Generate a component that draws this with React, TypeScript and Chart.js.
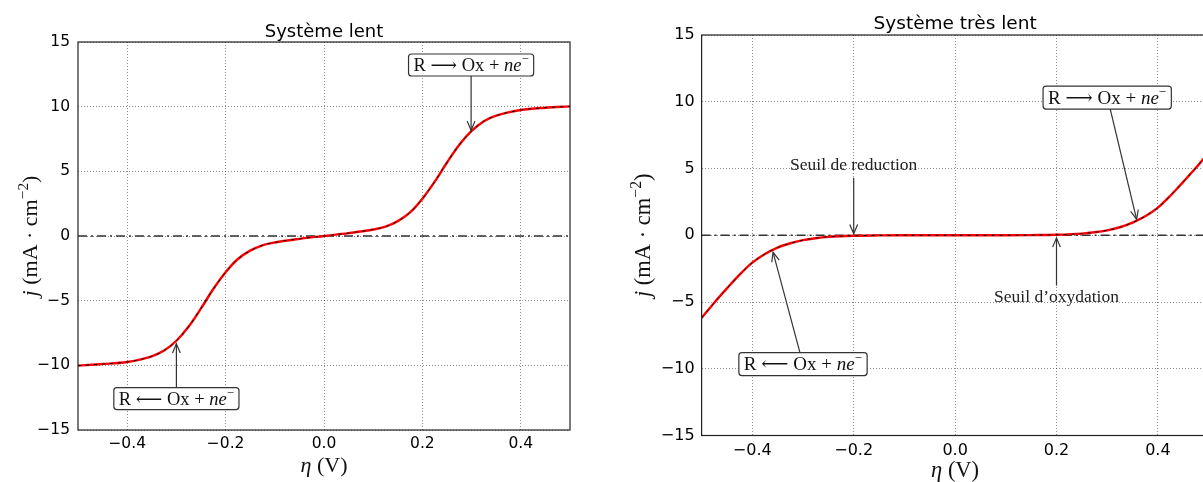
import React, { useEffect, useRef } from 'react';
import { Chart, registerables } from 'chart.js';

Chart.register(...registerables);

// ---------- data ----------
const X_TICKS = [-0.4, -0.2, 0, 0.2, 0.4];
const Y_TICKS = [-15, -10, -5, 0, 5, 10, 15];

const ETA_LENT = [-0.5, -0.45, -0.4, -0.35, -0.325, -0.3, -0.275, -0.25, -0.225, -0.2, -0.175, -0.15, -0.125, -0.1, -0.05, 0, 0.05, 0.1, 0.125, 0.15, 0.175, 0.2, 0.225, 0.25, 0.275, 0.3, 0.325, 0.35, 0.4, 0.45, 0.5];
const J_LENT = [-10.02, -9.9, -9.74, -9.3, -8.86, -8.1, -7.0, -5.6, -4.1, -2.8, -1.78, -1.13, -0.72, -0.5, -0.22, 0, 0.22, 0.5, 0.72, 1.15, 1.82, 2.88, 4.2, 5.68, 7.05, 8.12, 8.88, 9.3, 9.74, 9.92, 10.02];

const ETA_TRES_LENT = [-0.5, -0.475, -0.45, -0.425, -0.4, -0.375, -0.35, -0.325, -0.3, -0.275, -0.25, -0.2, -0.15, -0.1, 0, 0.1, 0.15, 0.2, 0.25, 0.275, 0.3, 0.325, 0.35, 0.375, 0.4, 0.425, 0.45, 0.475, 0.5];
const J_TRES_LENT = [-6.2, -5.05, -3.98, -2.95, -2.05, -1.4, -0.92, -0.6, -0.37, -0.22, -0.12, -0.035, -0.01, 0, 0, 0, 0.01, 0.035, 0.12, 0.22, 0.37, 0.6, 0.95, 1.42, 2.07, 2.98, 4.0, 5.05, 6.2];

const ZERO_ETA = [-0.5, 0.5];
const ZERO_J = [0, 0];

const TITLE_LENT = 'Système lent';
const TITLE_TRES_LENT = 'Système très lent';

// annotation boxes: centre (x, y), arrow start x (sx), arrow tip (tx, ty)
const BOXES_LENT = [
  { dir: 'ox', x: 0.299, y: 13.22, sx: 0.299, tx: 0.299, ty: 8.17 },
  { dir: 'red', x: -0.3, y: -12.57, sx: -0.3, tx: -0.3, ty: -8.33 },
];
const BOXES_TRES_LENT = [
  { dir: 'ox', x: 0.3, y: 10.31, sx: 0.306, tx: 0.358, ty: 1.19 },
  { dir: 'red', x: -0.3, y: -9.65, sx: -0.306, tx: -0.359, ty: -1.28 },
];
const LABELS_TRES_LENT = [
  { text: 'Seuil de reduction', x: -0.2, y: 5.33, sy: 4.3, ty: 0.12 },
  { text: 'Seuil d’oxydation', x: 0.2, y: -4.59, sy: -3.77, ty: -0.2 },
];

// ---------- drawing helpers ----------
const SERIF = '"Liberation Serif", "DejaVu Serif", serif';
const SANS = '"DejaVu Sans", sans-serif';

type Run = { t: string; s?: 'i' | 'sup' };

const OX_RUNS: Run[] = [{ t: 'R ' }, { t: '⟶' }, { t: ' Ox + ' }, { t: 'ne', s: 'i' }, { t: '−', s: 'sup' }];
const RED_RUNS: Run[] = [{ t: 'R ' }, { t: '⟵' }, { t: ' Ox + ' }, { t: 'ne', s: 'i' }, { t: '−', s: 'sup' }];
const YLABEL_RUNS: Run[] = [{ t: 'j', s: 'i' }, { t: ' (mA · cm' }, { t: '−2', s: 'sup' }, { t: ')' }];
const XLABEL_RUNS: Run[] = [{ t: 'η', s: 'i' }, { t: ' (V)' }];

function runFont(r: Run, size: number) {
  if (r.s === 'i') return `italic ${size}px ${SERIF}`;
  if (r.s === 'sup') return `${(size * 0.7).toFixed(1)}px ${SERIF}`;
  return `${size}px ${SERIF}`;
}
function measureRuns(ctx: CanvasRenderingContext2D, runs: Run[], size: number) {
  let w = 0;
  for (const r of runs) {
    ctx.font = runFont(r, size);
    w += ctx.measureText(r.t).width;
  }
  return w;
}
function drawRuns(ctx: CanvasRenderingContext2D, runs: Run[], cx: number, cy: number, size: number, color: string) {
  const total = measureRuns(ctx, runs, size);
  let x = cx - total / 2;
  const base = cy + size * 0.33;
  ctx.fillStyle = color;
  ctx.textAlign = 'left';
  ctx.textBaseline = 'alphabetic';
  for (const r of runs) {
    ctx.font = runFont(r, size);
    ctx.fillText(r.t, x, r.s === 'sup' ? base - size * 0.42 : base);
    x += ctx.measureText(r.t).width;
  }
  return total;
}
function drawArrow(ctx: CanvasRenderingContext2D, x0: number, y0: number, x1: number, y1: number) {
  ctx.save();
  ctx.strokeStyle = '#333';
  ctx.lineWidth = 1.2;
  ctx.setLineDash([]);
  ctx.beginPath();
  ctx.moveTo(x0, y0);
  ctx.lineTo(x1, y1);
  ctx.stroke();
  const a = Math.atan2(y1 - y0, x1 - x0);
  const L = 10;
  const W = 0.4;
  ctx.beginPath();
  ctx.moveTo(x1 - L * Math.cos(a - W), y1 - L * Math.sin(a - W));
  ctx.lineTo(x1, y1);
  ctx.lineTo(x1 - L * Math.cos(a + W), y1 - L * Math.sin(a + W));
  ctx.stroke();
  ctx.restore();
}

type PanelCfg = {
  eta: number[];
  j: number[];
  title: string;
  boxes: { dir: string; x: number; y: number; sx: number; tx: number; ty: number }[];
  labels: { text: string; x: number; y: number; sy: number; ty: number }[];
  width: number;
  pad: { top: number; right: number; bottom: number; left: number };
  yw: number;
  xh: number;
  tick: number;
  xpad: number;
  ypad: number;
  titleY: number;
  titleSize: number;
  xLabelY: number;
  yLabelX: number;
  axisSize: number;
  noteSize: number;
  boxH: number;
  seuilSize: number;
};

const GRID = 'rgba(0,0,0,0.45)';

function fmt(v: number, digits: number) {
  if (Math.abs(v) < 1e-9) return digits ? (0).toFixed(digits) : '0';
  const s = Math.abs(v).toFixed(digits);
  return v < 0 ? '−' + s : s;
}

function buildConfig(p: PanelCfg): any {
  const pts = (xs: number[], ys: number[]) => xs.map((x, i) => ({ x, y: ys[i] }));
  const deco = {
    id: 'deco',
    afterDatasetsDraw(chart: any) {
      const ctx: CanvasRenderingContext2D = chart.ctx;
      const xs = chart.scales.x;
      const ys = chart.scales.y;
      const ca = chart.chartArea;
      ctx.save();
      // frame
      ctx.strokeStyle = '#222';
      ctx.lineWidth = 1.2;
      ctx.setLineDash([]);
      ctx.strokeRect(ca.left, ca.top, ca.right - ca.left, ca.bottom - ca.top);
      // boxed annotations
      for (const b of p.boxes) {
        const runs = b.dir === 'ox' ? OX_RUNS : RED_RUNS;
        const cx = xs.getPixelForValue(b.x);
        const cy = ys.getPixelForValue(b.y);
        const tw = measureRuns(ctx, runs, p.noteSize);
        const w = tw + 10;
        const h = p.boxH;
        const tipY = ys.getPixelForValue(b.ty);
        const startY = tipY > cy ? cy + h / 2 : cy - h / 2;
        drawArrow(ctx, xs.getPixelForValue(b.sx), startY, xs.getPixelForValue(b.tx), tipY);
        ctx.beginPath();
        ctx.roundRect(cx - w / 2, cy - h / 2, w, h, 3);
        ctx.fillStyle = '#fff';
        ctx.fill();
        ctx.strokeStyle = '#333';
        ctx.lineWidth = 1.2;
        ctx.stroke();
        drawRuns(ctx, runs, cx, cy, p.noteSize, '#111');
      }
      // plain labels
      for (const l of p.labels) {
        const cx = xs.getPixelForValue(l.x);
        const cy = ys.getPixelForValue(l.y);
        drawRuns(ctx, [{ t: l.text }], cx, cy, p.seuilSize, '#222');
        drawArrow(ctx, cx, ys.getPixelForValue(l.sy), cx, ys.getPixelForValue(l.ty));
      }
      ctx.restore();
    },
    afterDraw(chart: any) {
      const ctx: CanvasRenderingContext2D = chart.ctx;
      const ca = chart.chartArea;
      const mx = (ca.left + ca.right) / 2;
      const my = (ca.top + ca.bottom) / 2;
      ctx.save();
      ctx.fillStyle = '#000';
      ctx.font = `${p.titleSize}px ${SANS}`;
      ctx.textAlign = 'center';
      ctx.textBaseline = 'alphabetic';
      ctx.fillText(p.title, mx, p.titleY + p.titleSize * 0.36);
      drawRuns(ctx, XLABEL_RUNS, mx, p.xLabelY, p.axisSize, '#111');
      ctx.translate(p.yLabelX, my);
      ctx.rotate(-Math.PI / 2);
      drawRuns(ctx, YLABEL_RUNS, 0, 0, p.axisSize, '#111');
      ctx.restore();
    },
  };

  return {
    type: 'line',
    data: {
      datasets: [
        {
          data: pts(p.eta, p.j),
          borderColor: '#000',
          borderWidth: 1,
          borderDash: [3, 5],
          pointRadius: 0,
          cubicInterpolationMode: 'monotone',
          fill: false,
        },
        {
          data: pts(p.eta, p.j),
          borderColor: '#ff0000',
          borderWidth: 2.4,
          pointRadius: 0,
          cubicInterpolationMode: 'monotone',
          fill: false,
        },
        {
          data: pts(ZERO_ETA, ZERO_J),
          borderColor: '#333',
          borderWidth: 1.3,
          borderDash: [9, 4, 2, 4],
          pointRadius: 0,
          fill: false,
        },
      ],
    },
    options: {
      responsive: false,
      animation: false,
      devicePixelRatio: 1,
      events: [],
      layout: { padding: p.pad },
      plugins: { legend: { display: false }, tooltip: { enabled: false }, title: { display: false } },
      scales: {
        x: {
          type: 'linear',
          min: -0.5,
          max: 0.5,
          afterBuildTicks: (s: any) => {
            s.ticks = X_TICKS.map((value) => ({ value }));
          },
          afterFit: (s: any) => {
            s.height = p.xh;
          },
          grid: { color: GRID, lineWidth: 1, drawTicks: false },
          border: { display: false, dash: [1, 2] },
          ticks: {
            padding: p.xpad,
            color: '#000',
            maxRotation: 0,
            autoSkip: false,
            font: { family: SANS, size: p.tick },
            callback: (v: number) => fmt(v, 1),
          },
        },
        y: {
          type: 'linear',
          min: -15,
          max: 15,
          afterBuildTicks: (s: any) => {
            s.ticks = Y_TICKS.map((value) => ({ value }));
          },
          afterFit: (s: any) => {
            s.width = p.yw;
          },
          grid: { color: GRID, lineWidth: 1, drawTicks: false },
          border: { display: false, dash: [1, 2] },
          ticks: {
            padding: p.ypad,
            color: '#000',
            autoSkip: false,
            font: { family: SANS, size: p.tick },
            callback: (v: number) => fmt(v, 0),
          },
        },
      },
    },
    plugins: [deco],
  };
}

const LEFT_CFG: PanelCfg = {
  eta: ETA_LENT,
  j: J_LENT,
  title: TITLE_LENT,
  boxes: BOXES_LENT,
  labels: [],
  width: 600,
  pad: { top: 42, right: 30, bottom: 0, left: 0 },
  yw: 78,
  xh: 52,
  tick: 15.5,
  xpad: 5,
  ypad: 8,
  titleY: 31,
  titleSize: 18,
  xLabelY: 465,
  yLabelX: 30,
  axisSize: 22,
  noteSize: 18.5,
  boxH: 22,
  seuilSize: 17.5,
};

const RIGHT_CFG: PanelCfg = {
  eta: ETA_TRES_LENT,
  j: J_TRES_LENT,
  title: TITLE_TRES_LENT,
  boxes: BOXES_TRES_LENT,
  labels: LABELS_TRES_LENT,
  width: 640,
  pad: { top: 35, right: 31.4, bottom: 0, left: 0 },
  yw: 101.6,
  xh: 46.5,
  tick: 16,
  xpad: 6,
  ypad: 7,
  titleY: 22,
  titleSize: 18.5,
  xLabelY: 470,
  yLabelX: 43,
  axisSize: 22.5,
  noteSize: 19,
  boxH: 23,
  seuilSize: 17.5,
};

function Panel({ cfg, left }: { cfg: PanelCfg; left: number }) {
  const ref = useRef<HTMLCanvasElement>(null);
  useEffect(() => {
    const chart = new Chart(ref.current as HTMLCanvasElement, buildConfig(cfg));
    return () => chart.destroy();
  }, [cfg]);
  return (
    <canvas
      ref={ref}
      width={cfg.width}
      height={482}
      style={{ position: 'absolute', left, top: 0, width: cfg.width, height: 482 }}
    />
  );
}

export default function App() {
  return (
    <div
      style={{
        position: 'fixed',
        left: 0,
        top: 0,
        width: 1203,
        height: 482,
        overflow: 'hidden',
        background: '#fff',
      }}
    >
      <Panel cfg={LEFT_CFG} left={0} />
      <Panel cfg={RIGHT_CFG} left={600} />
    </div>
  );
}
